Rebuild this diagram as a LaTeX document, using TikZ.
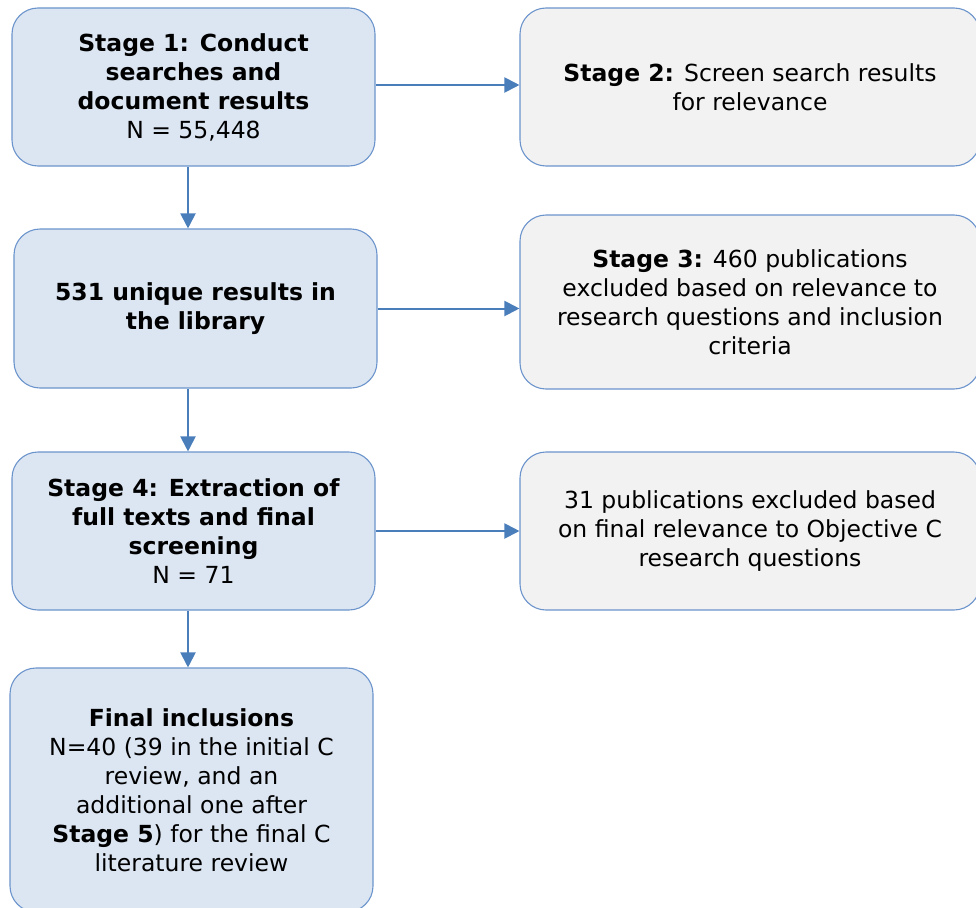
\documentclass[tikz,border=0pt]{standalone}
\usepackage{fontspec}
\setmainfont{DejaVu Sans}
\usetikzlibrary{arrows.meta}
\definecolor{bluefill}{HTML}{DCE6F2}
\definecolor{greyfill}{HTML}{F2F2F2}
\definecolor{boxline}{HTML}{6C94CC}
\definecolor{arrowc}{HTML}{4A7EBB}
\tikzset{
  box/.style={draw=boxline, line width=1.1pt, rounded corners=26pt, align=center,
    font=\fontsize{23.5}{29}\selectfont, inner sep=0pt},
  bluebox/.style={box, fill=bluefill, minimum width=363pt},
  greybox/.style={box, fill=greyfill, minimum width=460pt},
  conn/.style={draw=arrowc, line width=2pt, -{Triangle[length=15pt,width=15pt]}}
}
\begin{document}
\begin{tikzpicture}[x=1pt,y=-1pt]
\useasboundingbox (0,0) rectangle (976,907);
\begin{scope}
\clip (0,0) rectangle (976,907);
\node[bluebox, minimum height=158pt] (b1) at (193.5,87) {\textbf{Stage 1: Conduct}\\\textbf{searches and}\\\textbf{document results}\\N = 55,448};
\node[greybox, minimum height=158pt] (b2) at (750,87) {\textbf{Stage 2:} Screen search results\\for relevance};
\node[bluebox, minimum height=159pt] (b3) at (195.5,308.5) {\textbf{531 unique results in}\\\textbf{the library}};
\node[greybox, minimum height=174pt] (b4) at (750,302) {\textbf{Stage 3:} 460 publications\\excluded based on relevance to\\research questions and inclusion\\criteria};
\node[bluebox, minimum height=158pt] (b5) at (193.5,531) {\textbf{Stage 4: Extraction of}\\\textbf{full texts and final}\\\textbf{screening}\\N = 71};
\node[greybox, minimum height=158pt] (b6) at (750,531) {31 publications excluded based\\on final relevance to Objective C\\research questions};
\node[bluebox, minimum height=244pt] (b7) at (191.5,790) {\textbf{Final inclusions}\\N=40 (39 in the initial C\\review, and an\\additional one after\\\textbf{Stage 5}) for the final C\\literature review};
\end{scope}
\coordinate (xv) at (188,0);
\coordinate (y1) at (0,85);
\draw[conn] (b1.east |- y1) -- (b2.west |- y1);
\draw[conn] (b3.east) -- (b3.east -| b4.west);
\draw[conn] (b5.east) -- (b6.west);
\draw[conn] (b1.south -| xv) -- (b3.north -| xv);
\draw[conn] (b3.south -| xv) -- (b5.north -| xv);
\draw[conn] (b5.south -| xv) -- (b7.north -| xv);
\end{tikzpicture}
\end{document}
